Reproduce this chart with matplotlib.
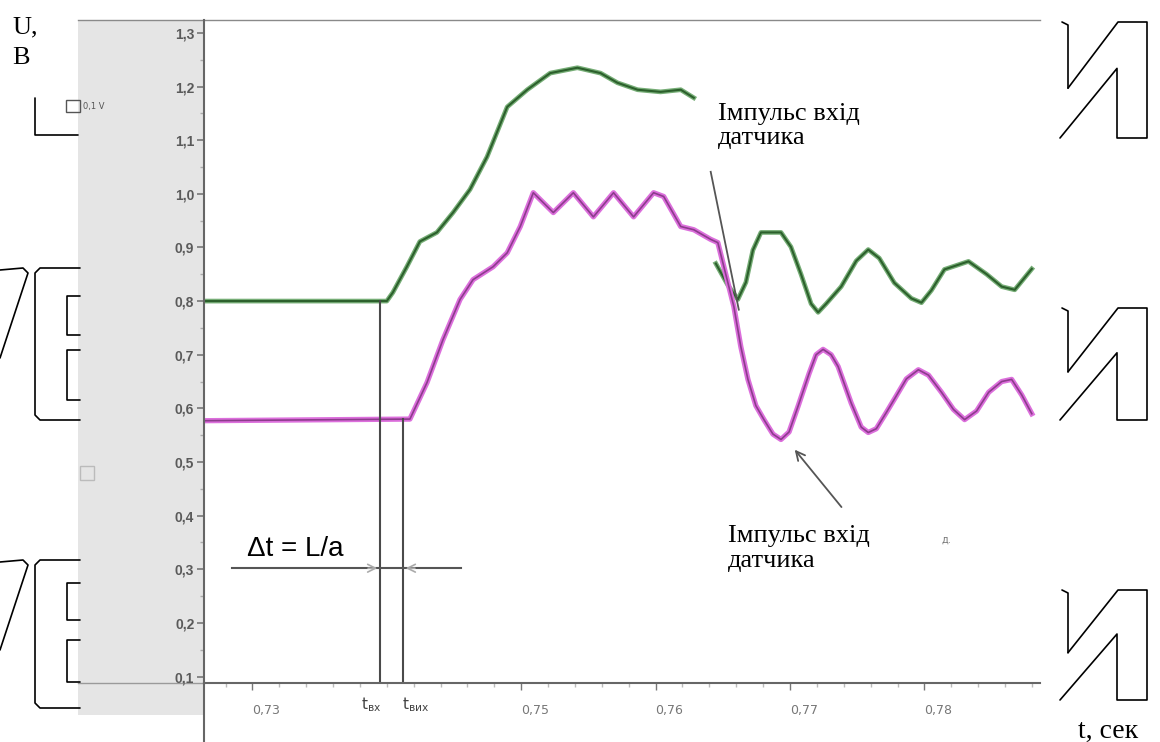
import matplotlib.pyplot as plt
from matplotlib.ticker import FixedLocator, MultipleLocator, FuncFormatter

# traces (t in s, U in V)
green_t = [0.72642, 0.74000, 0.74045, 0.74149, 0.74246, 0.74373, 0.74493, 0.74619,
           0.74746, 0.74896, 0.75045, 0.75216, 0.75418, 0.75590, 0.75716, 0.75866,
           0.76037, 0.76187, 0.76284]
green_u = [0.800, 0.800, 0.816, 0.864, 0.911, 0.928, 0.965, 1.008,
           1.069, 1.162, 1.194, 1.225, 1.235, 1.225, 1.207, 1.194,
           1.190, 1.194, 1.179]

green2_t = [0.76448, 0.76537, 0.76612, 0.76672, 0.76724, 0.76784, 0.76933, 0.77007,
            0.77082, 0.77157, 0.77209, 0.77269, 0.77381, 0.77493, 0.77582, 0.77664,
            0.77776, 0.77903, 0.77978, 0.78052, 0.78149, 0.78328, 0.78463, 0.78575,
            0.78672, 0.78799]
green2_u = [0.870, 0.830, 0.803, 0.835, 0.895, 0.928, 0.928, 0.901,
            0.850, 0.795, 0.779, 0.795, 0.827, 0.875, 0.896, 0.880,
            0.834, 0.805, 0.797, 0.820, 0.859, 0.874, 0.850, 0.827,
            0.821, 0.860]

pink_t = [0.72642, 0.74172, 0.74299, 0.74418, 0.74545, 0.74642, 0.74791, 0.74896,
          0.74993, 0.75090, 0.75239, 0.75388, 0.75537, 0.75687, 0.75836, 0.75985,
          0.76060, 0.76187, 0.76284, 0.76410, 0.76463, 0.76582, 0.76634, 0.76687,
          0.76746, 0.76806, 0.76873, 0.76933, 0.76993, 0.77060, 0.77142, 0.77194,
          0.77246, 0.77306, 0.77358, 0.77455, 0.77530, 0.77582, 0.77642, 0.77716,
          0.77776, 0.77866, 0.77955, 0.78030, 0.78127, 0.78216, 0.78299, 0.78388,
          0.78478, 0.78575, 0.78649, 0.78724, 0.78799]
pink_u = [0.577, 0.580, 0.648, 0.728, 0.803, 0.840, 0.864, 0.890,
          0.939, 1.002, 0.965, 1.002, 0.957, 1.002, 0.957, 1.002,
          0.995, 0.939, 0.933, 0.915, 0.909, 0.790, 0.715, 0.654,
          0.605, 0.579, 0.552, 0.542, 0.556, 0.604, 0.665, 0.700,
          0.710, 0.700, 0.678, 0.610, 0.565, 0.555, 0.562, 0.592,
          0.617, 0.655, 0.672, 0.662, 0.630, 0.598, 0.579, 0.595,
          0.630, 0.650, 0.654, 0.625, 0.590]

t_in, t_out = 0.7395, 0.7412
yticks = [0.1, 0.2, 0.3, 0.4, 0.5, 0.6, 0.7, 0.8, 0.9, 1.0, 1.1, 1.2, 1.3]
xticks = [0.73, 0.75, 0.76, 0.77, 0.78]
xtick_labels = ['0,73', '0,75', '0,76', '0,77', '0,78']

serif = 'Liberation Serif'
W, H = 1160, 742

fig = plt.figure(figsize=(W / 100, H / 100), dpi=100)

# page layer in pixel coordinates (scan background, frame pieces)
bg = fig.add_axes([0, 0, 1, 1], zorder=0)
bg.set_xlim(0, W)
bg.set_ylim(H, 0)
bg.axis('off')
bg.add_patch(plt.Rectangle((78, 20), 126, 695, color='#e5e5e5', lw=0))
bg.plot([78, 1040], [20, 20], color='#8a8a8a', lw=1)
bg.plot([78, 204], [683, 683], color='#9a9a9a', lw=1)
bg.plot([204, 204], [683, 742], color='#666666', lw=1.5)

k = dict(color='black', lw=1.2, solid_capstyle='round')
# left bracket pieces
for y0, y1, s1, s2 in [(268, 420, (296, 335), (350, 400)), (560, 708, (583, 620), (640, 682))]:
    bg.plot([0, 23, 28, 0], [y0 + 2, y0, y0 + 5, y0 + 90], **k)
    bg.plot([80, 40, 35, 35, 40, 80], [y0, y0, y0 + 5, y1 - 5, y1, y1], **k)
    for a, b in (s1, s2):
        bg.plot([80, 67, 67, 80], [a, a, b, b], **k)
bg.plot([35, 35, 78], [98, 135, 135], **k)
bg.add_patch(plt.Rectangle((66, 100), 14, 12, fill=False, ec='#555', lw=1))
bg.text(83, 106, '0,1 V', fontsize=6, color='#555', va='center')
bg.add_patch(plt.Rectangle((80, 466), 14, 14, fill=False, ec='#bbb', lw=1))

# right "И" pieces
for y0, y1 in [(22, 138), (308, 420), (590, 700)]:
    h = y1 - y0
    bg.plot([1062, 1068, 1068], [y0, y0 + 3, y0 + 0.57 * h], **k)
    bg.plot([1068, 1118, 1147, 1147, 1117, 1117, 1060],
            [y0 + 0.57 * h, y0, y0, y1, y1, y0 + 0.4 * h, y1], **k)

fig.text(12 / W, 1 - 16 / H, 'U,\nB', family=serif, fontsize=19, va='top', linespacing=1.55)
fig.text(1078 / W, 1 - 738 / H, 't, сек', family=serif, fontsize=20, va='baseline')

# oscillogram
ax = fig.add_axes([204 / W, 1 - 683 / H, (1040 - 204) / W, (683 - 20) / H], zorder=1)
ax.set_facecolor('none')
ax.set_xlim(0.7264, 0.7886)
ax.set_ylim(0.088, 1.324)

ax.plot(green_t, green_u, color='#76ad76', lw=3.4, solid_joinstyle='round')
ax.plot(green_t, green_u, color='#2c602c', lw=1.5, solid_joinstyle='round')
ax.plot(green2_t, green2_u, color='#76ad76', lw=3.4, solid_joinstyle='round')
ax.plot(green2_t, green2_u, color='#2c602c', lw=1.5, solid_joinstyle='round')
ax.plot(pink_t, pink_u, color='#dc6fdc', lw=3.8, solid_joinstyle='round')
ax.plot(pink_t, pink_u, color='#8c3c8c', lw=1.2, solid_joinstyle='round')

for spine in ('top', 'right'):
    ax.spines[spine].set_visible(False)
for spine in ('left', 'bottom'):
    ax.spines[spine].set_color('#666666')
    ax.spines[spine].set_linewidth(1.5)

ax.yaxis.set_major_locator(FixedLocator(yticks))
ax.yaxis.set_minor_locator(MultipleLocator(0.05))
ax.yaxis.set_major_formatter(FuncFormatter(lambda v, p: f'{v:.1f}'.replace('.', ',')))
ax.tick_params(axis='y', which='major', length=5, width=1.2, color='#777',
               labelsize=10, labelcolor='#5a5a5a', pad=2)
ax.tick_params(axis='y', which='minor', length=3, width=1, color='#aaa')

ax.xaxis.set_major_locator(FixedLocator(xticks))
ax.xaxis.set_minor_locator(MultipleLocator(0.002))
ax.set_xticklabels(xtick_labels, ha='left')
ax.tick_params(axis='x', which='major', length=5, width=1, color='#777',
               labelsize=9, labelcolor='#777', pad=10)
ax.tick_params(axis='x', which='minor', length=3, width=1, color='#bbb')
for lab in ax.get_yticklabels():
    lab.set_family('Liberation Sans')
    lab.set_fontweight('bold')

# delay markers
ax.plot([t_in, t_in], [0.088, 0.80], color='#4a4a4a', lw=1.5)
ax.plot([t_out, t_out], [0.088, 0.58], color='#4a4a4a', lw=1.5)
ax.plot([0.7285, 0.7455], [0.302, 0.302], color='#555', lw=1.5)
ax.annotate('', xy=(t_in, 0.302), xytext=(t_in - 0.0011, 0.302),
            arrowprops=dict(arrowstyle='->', color='#aaa', lw=1.2, mutation_scale=14))
ax.annotate('', xy=(t_out, 0.302), xytext=(t_out + 0.0011, 0.302),
            arrowprops=dict(arrowstyle='->', color='#aaa', lw=1.2, mutation_scale=14))
ax.text(0.7296, 0.324, 'Δt = L/a', family='Liberation Sans', fontsize=20, va='baseline')

xt = ax.get_xaxis_transform()
ax.text(t_in + 0.0001, -0.032, r'$\mathrm{t}_{\mathrm{вх}}$', transform=xt,
        ha='right', va='center', fontsize=11, color='#444')
ax.text(t_out - 0.0001, -0.032, r'$\mathrm{t}_{\mathrm{вих}}$', transform=xt,
        ha='left', va='center', fontsize=11, color='#444')

# captions
ax.text(0.76463, 1.170, 'Імпульс вхід\nдатчика', family=serif, fontsize=19,
        va='top', linespacing=1.15)
ax.plot([0.76410, 0.76619], [1.041, 0.784], color='#555', lw=1.3)
ax.text(0.76537, 0.382, 'Імпульс вхід\nдатчика', family=serif, fontsize=19,
        va='top', linespacing=1.15)
ax.annotate('', xy=(0.77022, 0.527), xytext=(0.77396, 0.412),
            arrowprops=dict(arrowstyle='->', color='#555', lw=1.3, mutation_scale=16))
ax.text(0.7813, 0.35, 'д.', fontsize=7, color='#777')

fig.savefig('out.png', dpi=100)
